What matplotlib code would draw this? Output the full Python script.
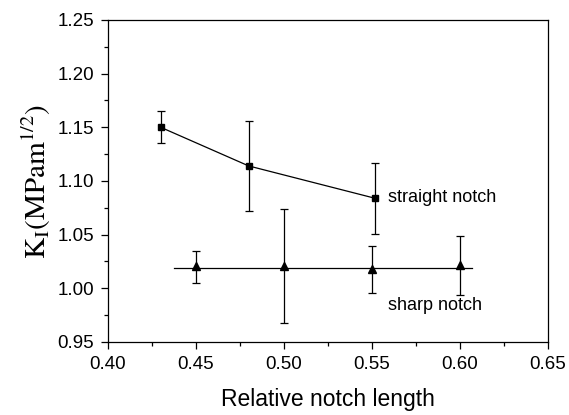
import numpy as np
import matplotlib
matplotlib.use('Agg')
import matplotlib.pyplot as plt
from matplotlib.ticker import MultipleLocator

# straight notch
x_straight = [0.43, 0.48, 0.5515]
k_straight = [1.150, 1.114, 1.084]
lo_straight = [1.135, 1.072, 1.051]
hi_straight = [1.165, 1.156, 1.1165]

# sharp notch
x_sharp = [0.45, 0.50, 0.55, 0.60]
k_sharp = [1.021, 1.021, 1.018, 1.022]
lo_sharp = [1.005, 0.968, 0.9956, 0.994]
hi_sharp = [1.035, 1.074, 1.0397, 1.049]
fit_x = [0.4375, 0.6066]
fit_k = [1.0186, 1.0186]

plt.rcParams['font.family'] = ['Liberation Sans', 'DejaVu Sans']
plt.rcParams['mathtext.fontset'] = 'stix'

fig = plt.figure(figsize=(5.69, 4.15), dpi=100)
ax = fig.add_axes([108 / 569, 1 - 342 / 415, 440 / 569, 322 / 415])

ks = np.array(k_straight)
ax.errorbar(x_straight, k_straight,
            yerr=[ks - np.array(lo_straight), np.array(hi_straight) - ks],
            fmt='s-', color='k', ms=5, lw=0.9, elinewidth=0.9, capsize=3, capthick=0.9)

kh = np.array(k_sharp)
ax.errorbar(x_sharp, k_sharp,
            yerr=[kh - np.array(lo_sharp), np.array(hi_sharp) - kh],
            fmt='^', color='k', ms=6, elinewidth=0.9, capsize=3, capthick=0.9)
ax.plot(fit_x, fit_k, color='k', lw=0.9)

ax.text(0.559, 1.085, 'straight notch', fontsize=13, va='center', ha='left')
ax.text(0.559, 0.9844, 'sharp notch', fontsize=13, va='center', ha='left')

ax.set_xlim(0.40, 0.65)
ax.set_ylim(0.95, 1.25)
ax.xaxis.set_major_locator(MultipleLocator(0.05))
ax.xaxis.set_minor_locator(MultipleLocator(0.025))
ax.yaxis.set_major_locator(MultipleLocator(0.05))
ax.yaxis.set_minor_locator(MultipleLocator(0.025))
ax.xaxis.set_major_formatter(plt.FormatStrFormatter('%.2f'))
ax.yaxis.set_major_formatter(plt.FormatStrFormatter('%.2f'))
ax.tick_params(which='major', direction='out', length=5, width=0.9, labelsize=13.5, pad=5)
ax.tick_params(which='minor', direction='out', length=3, width=0.9)
for s in ax.spines.values():
    s.set_linewidth(0.9)

ax.set_xlabel('Relative notch length', fontsize=16.5, labelpad=11)
ax.set_ylabel(r'$\mathrm{K_{I}(MPam^{1/2})}$', fontsize=21, labelpad=3)

fig.savefig('out.png', dpi=100)
